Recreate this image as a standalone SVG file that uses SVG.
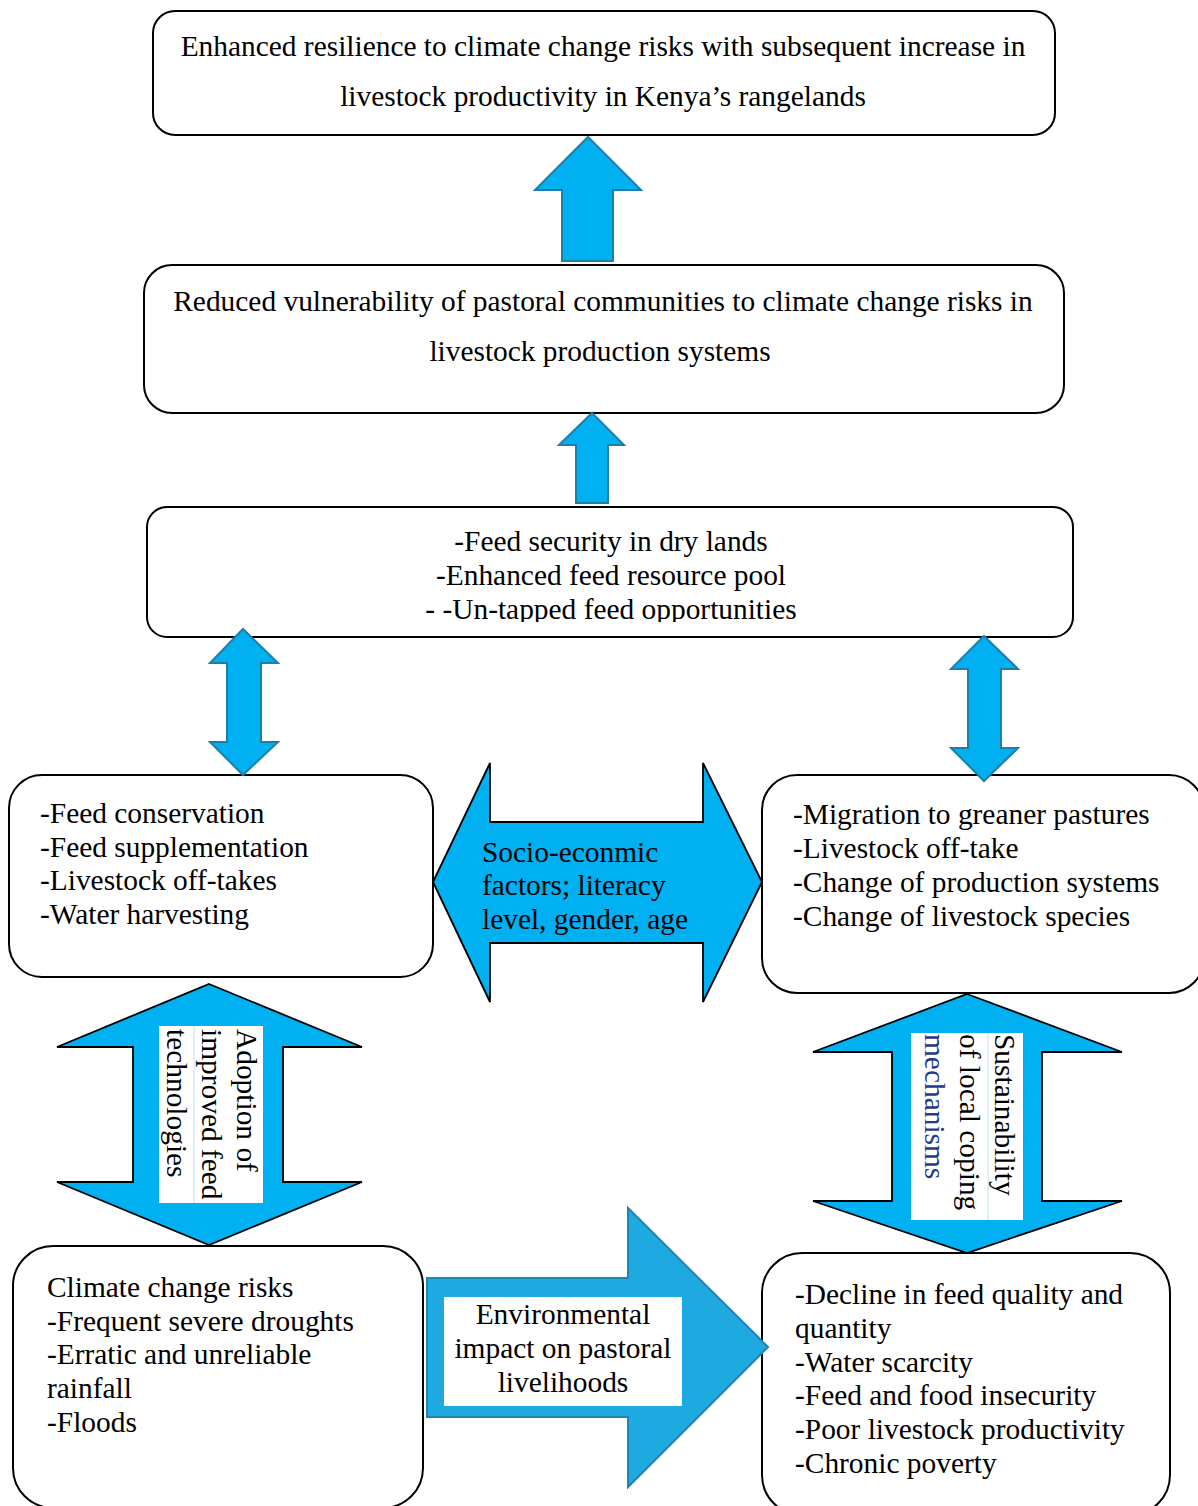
<svg xmlns="http://www.w3.org/2000/svg" width="1198" height="1506" viewBox="0 0 1198 1506">
<style>
.box{fill:#fff;stroke:#000;stroke-width:2}
.t{font-family:"Liberation Serif","Times New Roman",serif;font-size:29.4px;fill:#000}
.c{text-anchor:middle}
.ua{fill:#00B0F0;stroke:#1C7FAA;stroke-width:2;stroke-linejoin:miter}
.ba{fill:#00B0F0;stroke:#000;stroke-width:1.8;stroke-linejoin:miter}
.ea{fill:#1EAAE0;stroke:#1E86B5;stroke-width:2}
.wb{fill:#fff;stroke:none}
.fl{stroke:#CDE8F5;stroke-width:1.2}
</style>
<defs>
<clipPath id="clip3"><rect x="147" y="507" width="926" height="115"/></clipPath>
</defs>
<rect width="1198" height="1506" fill="#fff"/>

<g id="node-outcome">
<rect class="box" x="153" y="11" width="902" height="124" rx="22"/>
<text class="t c" x="603" y="56">Enhanced resilience to climate change risks with subsequent increase in</text>
<text class="t c" x="603" y="106">livestock productivity in Kenya’s rangelands</text>
</g>

<g id="node-vulnerability">
<rect class="box" x="144" y="265" width="920" height="148" rx="28"/>
<text class="t c" x="603" y="311">Reduced vulnerability of pastoral communities to climate change risks in</text>
<text class="t c" x="600" y="361">livestock production systems</text>
</g>

<g id="node-feedsecurity">
<rect class="box" x="147" y="507" width="926" height="130" rx="20"/>
<g clip-path="url(#clip3)">
<text class="t c" x="611" y="551">-Feed security in dry lands</text>
<text class="t c" x="611" y="585">-Enhanced feed resource pool</text>
<text class="t c" x="611" y="619">- -Un-tapped feed opportunities</text>
</g>
</g>

<g id="node-technologies">
<rect class="box" x="9" y="775" width="424" height="202" rx="33"/>
<text class="t" x="40" y="823">-Feed conservation</text>
<text class="t" x="40" y="857">-Feed supplementation</text>
<text class="t" x="40" y="890">-Livestock off-takes</text>
<text class="t" x="40" y="924">-Water harvesting</text>
</g>

<g id="node-coping">
<rect class="box" x="762" y="775" width="442" height="218" rx="35"/>
<text class="t" x="793" y="824">-Migration to greaner pastures</text>
<text class="t" x="793" y="858">-Livestock off-take</text>
<text class="t" x="793" y="892">-Change of production systems</text>
<text class="t" x="793" y="926">-Change of livestock species</text>
</g>

<g id="node-climate">
<rect class="box" x="13" y="1246" width="410" height="262" rx="40"/>
<text class="t" x="47" y="1297">Climate change risks</text>
<text class="t" x="47" y="1331">-Frequent severe droughts</text>
<text class="t" x="47" y="1364">-Erratic and unreliable</text>
<text class="t" x="47" y="1398">rainfall</text>
<text class="t" x="47" y="1432">-Floods</text>
</g>

<g id="node-impacts">
<rect class="box" x="762" y="1253" width="408" height="262" rx="40"/>
<text class="t" x="795" y="1304">-Decline in feed quality and</text>
<text class="t" x="795" y="1338">quantity</text>
<text class="t" x="795" y="1372">-Water scarcity</text>
<text class="t" x="795" y="1405">-Feed and food insecurity</text>
<text class="t" x="795" y="1439">-Poor livestock productivity</text>
<text class="t" x="795" y="1473">-Chronic poverty</text>
</g>

<g id="connectors">
<path class="ua" d="M588,137 L641,190 L613,190 L613,261 L562,261 L562,190 L535,190 Z"/>
<path class="ua" d="M592,413 L624,445 L608,445 L608,503 L576,503 L576,445 L559,445 Z"/>
<path class="ua" d="M243,629 L278,663 L261,663 L261,742 L278,742 L243,775 L210,742 L227,742 L227,663 L210,663 Z"/>
<path class="ua" d="M984,636 L1018,669 L1001,669 L1001,748 L1018,748 L984,781 L951,748 L968,748 L968,669 L951,669 Z"/>

<g id="socio-arrow">
<path class="ba" d="M433,882 L490,763 L490,822 L703,822 L703,763 L762,882 L703,1002 L703,943 L490,943 L490,1002 Z"/>
<text class="t" x="482" y="862">Socio-econmic</text>
<text class="t" x="482" y="895">factors; literacy</text>
<text class="t" x="482" y="929">level, gender, age</text>
</g>

<g id="adoption-arrow">
<path class="ba" d="M209,984 L362,1047 L283,1047 L283,1182 L362,1182 L209,1245 L57,1182 L133,1182 L133,1047 L57,1047 Z"/>
<rect class="wb" x="159" y="1026" width="104" height="177"/>
<line class="fl" x1="194" y1="1026" x2="194" y2="1203"/>
<text class="t" transform="translate(237,1029) rotate(90)"><tspan x="0" y="0">Adoption of</tspan><tspan x="0" y="35">improved feed</tspan><tspan x="0" y="70">technologies</tspan></text>
</g>

<g id="sustainability-arrow">
<path class="ba" d="M967,994 L1122,1052 L1042,1052 L1042,1201 L1122,1201 L967,1253 L813,1201 L892,1201 L892,1052 L813,1052 Z"/>
<rect class="wb" x="911" y="1033" width="112" height="187"/>
<line class="fl" x1="988" y1="1033" x2="988" y2="1220"/>
<text class="t" transform="translate(995,1034) rotate(90)"><tspan x="0" y="0">Sustainability</tspan><tspan x="0" y="35">of local coping</tspan><tspan x="0" y="70" fill="#1F3A8F">mechanisms</tspan></text>
</g>

<g id="environment-arrow">
<path class="ea" d="M427,1278 L628,1278 L628,1208 L768,1347 L628,1487 L628,1417 L427,1417 Z"/>
<rect class="wb" x="444" y="1297" width="238" height="109"/>
<text class="t c" x="563" y="1324">Environmental</text>
<text class="t c" x="563" y="1358">impact on pastoral</text>
<text class="t c" x="563" y="1392">livelihoods</text>
</g>
</g>
</svg>
